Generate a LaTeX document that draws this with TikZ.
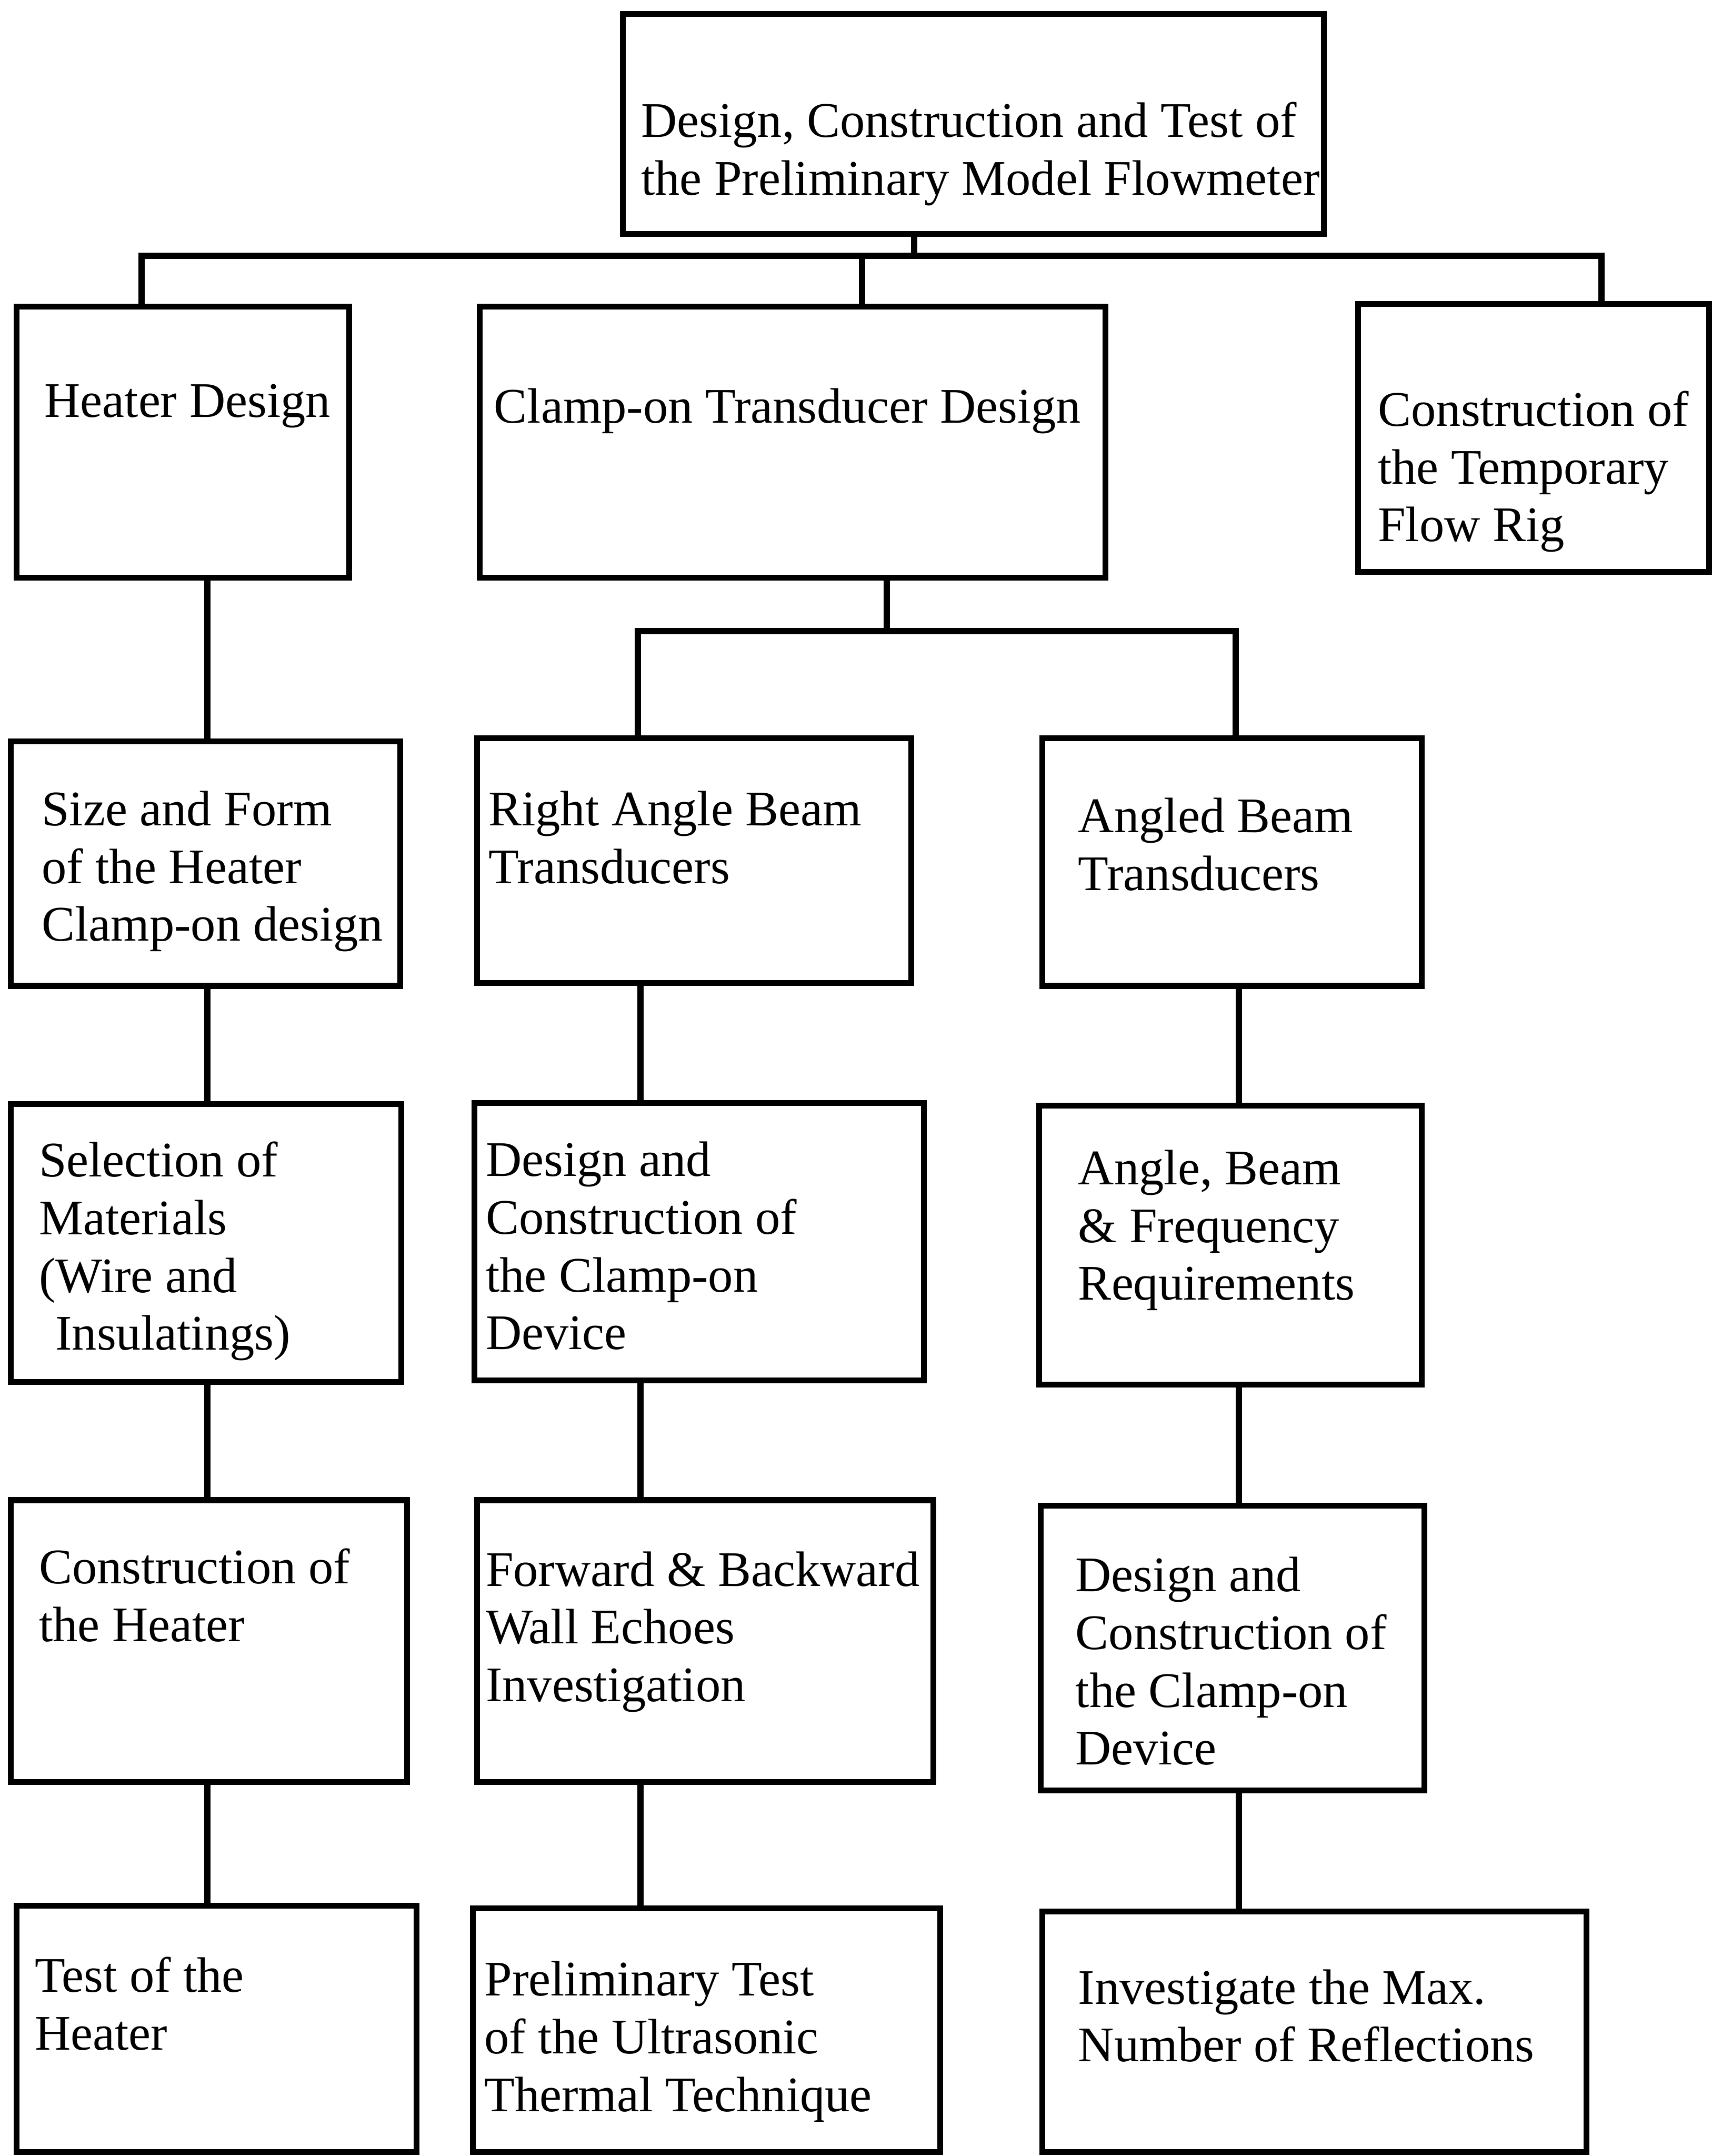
\documentclass[tikz,border=0pt]{standalone}
\usepackage{fontspec}
\setmainfont{Liberation Serif}
\usetikzlibrary{positioning}

\begin{document}
\begin{tikzpicture}[x=0.02cm, y=-0.02cm,
    every node/.style={font=\fontsize{20.6}{23.9}\selectfont},
    box/.style={draw, line width=2.4pt, anchor=north west, inner sep=0pt, outer sep=0pt},
    lbl/.style={anchor=north west, align=left, inner sep=0pt},
    link/.style={line width=2.6pt}]
      \useasboundingbox (0,0) rectangle (1245,1568);

      % boxes: name / left / top / right / bottom (in scan pixels)
      \foreach \n/\xa/\ya/\xb/\yb in {top/453/10/963/170, heat/12/223/254/420, clamp/349/223/804/420,
          rig/988/221/1243/416, size/8/539/291/717, right/347/537/663/715, angd/758/537/1034/717,
          sel/8/803/292/1005, dev/345/802/672/1004, req/756/804/1034/1007,
          cons/8/1091/296/1296, echo/347/1091/679/1296, dev2/757/1095/1036/1302,
          test/12/1386/303/1565, prel/344/1388/684/1565, refl/758/1390/1154/1565}
        \node[box, minimum width={0.02cm*(\xb-\xa)}, minimum height={0.02cm*(\yb-\ya)}] (\n) at (\xa,\ya) {};

      \node[lbl] (tTop) at (466,74) {Design, Construction and Test of\\the Preliminary Model Flowmeter};
      \node[lbl] (tHeat) at (32,279) {Heater Design};
      \node[lbl] (tClamp) at (359,282) {Clamp-on Transducer Design};
      \node[lbl] (tRig) at (1002,284) {Construction of\\the Temporary\\Flow Rig};
      \node[lbl] (tSize) at (30,575) {Size and Form\\of the Heater\\Clamp-on design};
      \node[lbl] (tRight) at (355,575) {Right Angle Beam\\Transducers};
      \node[lbl] (tAngd) at (784,580) {Angled Beam\\Transducers};
      \node[lbl] (tSel) at (28,830) {Selection of\\Materials\\(Wire and\\\hspace*{0.24cm}Insulatings)};
      \node[lbl] (tDev) at (353,830) {Design and\\Construction of\\the Clamp-on\\Device};
      \node[lbl] (tReq) at (784,836) {Angle, Beam\\\& Frequency\\Requirements};
      \node[lbl] (tCons) at (28,1126) {Construction of\\the Heater};
      \node[lbl] (tEcho) at (353,1128) {Forward \& Backward\\Wall Echoes\\Investigation};
      \node[lbl] (tDev2) at (782,1132) {Design and\\Construction of\\the Clamp-on\\Device};
      \node[lbl] (tTest) at (25,1423) {Test of the\\Heater};
      \node[lbl] (tPrel) at (352,1426) {Preliminary Test\\of the Ultrasonic\\Thermal Technique};
      \node[lbl] (tRefl) at (784,1432) {Investigate the Max.\\Number of Reflections};

      % forks
      \coordinate (fk1) at (665,186);
      \coordinate (fk2) at (645,459);
      \draw[link] (top.south -| fk1) -- (fk1);
      \draw[link] (heat.north -| 103,0) |- (fk1) -| (rig.north -| 1165,0);
      \draw[link] (clamp.north -| 627,0) -- (fk1 -| 627,0);
      \draw[link] (clamp.south -| fk2) -- (fk2);
      \draw[link] (right.north -| 464,0) |- (fk2) -| (angd.north -| 899,0);

      % columns
      \coordinate (colL) at (151,0);
      \coordinate (colM) at (466,0);
      \coordinate (colR) at (901,0);
      \foreach \a/\b/\c in {heat/size/colL, size/sel/colL, sel/cons/colL, cons/test/colL,
          right/dev/colM, dev/echo/colM, echo/prel/colM, angd/req/colR, req/dev2/colR, dev2/refl/colR}
        \draw[link] (\a.south -| \c) -- (\b.north -| \c);
\end{tikzpicture}
\end{document}
